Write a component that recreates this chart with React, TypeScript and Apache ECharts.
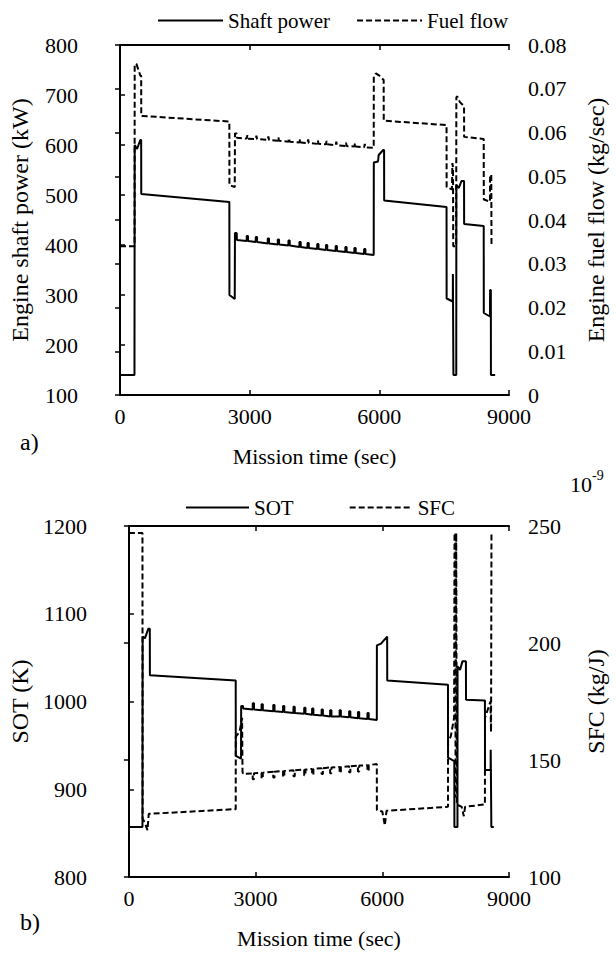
import React, { useEffect, useRef } from "react";
import * as echarts from "echarts";

const FONT = "Liberation Serif, serif";

// Axis ranges [min, max, interval]
const timeAxis = [0, 9000, 3000];
const powerAxis = [100, 800, 100];
const fuelAxis = [0, 0.08, 0.01];
const sotAxis = [800, 1200, 100];
const sfcAxis = [100, 250, 50];

// a) Engine shaft power (kW) vs mission time (s)
const shaftPower: [number, number][] = [
  [0, 140], [335, 140], [340, 600], [395, 592], [470, 610], [490, 610], [492, 502],
  [2530, 486], [2532, 300], [2655, 292], [2660, 424], [2700, 424], [2705, 410],
  [2932, 408], [2932, 418], [2962, 418], [2962, 408],
  [3141, 406], [3141, 416], [3171, 416], [3171, 406],
  [3418, 403], [3418, 413], [3448, 413], [3448, 403],
  [3650, 401], [3650, 411], [3680, 411], [3680, 401],
  [3897, 399], [3897, 409], [3927, 409], [3927, 399],
  [4151, 396], [4151, 406], [4181, 406], [4181, 396],
  [4338, 394], [4338, 404], [4368, 404], [4368, 394],
  [4563, 392], [4563, 402], [4593, 402], [4593, 392],
  [4765, 390], [4765, 400], [4795, 400], [4795, 390],
  [4989, 388], [4989, 398], [5019, 398], [5019, 388],
  [5214, 386], [5214, 396], [5244, 396], [5244, 386],
  [5423, 384], [5423, 394], [5453, 394], [5453, 384],
  [5648, 382], [5648, 392], [5678, 392], [5678, 382],
  [5870, 380], [5872, 565], [5970, 567], [5985, 580], [6090, 590], [6110, 590], [6112, 489],
  [7555, 476], [7557, 293], [7700, 287], [7702, 342], [7712, 342], [7714, 140], [7780, 140],
  [7782, 520], [7840, 514], [7900, 528], [7960, 528], [7962, 442],
  [8415, 438], [8417, 264], [8560, 257], [8562, 310], [8580, 310], [8582, 140], [8680, 140],
];

// a) Engine fuel flow (kg/s)
const fuelFlow: [number, number][] = [
  [0, 0.034], [337, 0.034], [340, 0.0755], [380, 0.0757], [420, 0.0745], [470, 0.073], [490, 0.073], [492, 0.0638],
  [2530, 0.0625], [2532, 0.048], [2655, 0.0475], [2660, 0.0598], [2700, 0.0598], [2705, 0.0588],
  [2932, 0.0586], [2947, 0.0594], [2962, 0.0586],
  [3141, 0.0585], [3156, 0.0593], [3171, 0.0585],
  [3418, 0.0583], [3433, 0.0591], [3448, 0.0583],
  [3650, 0.0581], [3665, 0.0589], [3680, 0.0581],
  [3897, 0.0579], [3912, 0.0587], [3927, 0.0579],
  [4151, 0.0577], [4166, 0.0585], [4181, 0.0577],
  [4338, 0.0576], [4353, 0.0584], [4368, 0.0576],
  [4563, 0.0574], [4578, 0.0582], [4593, 0.0574],
  [4765, 0.0573], [4780, 0.0581], [4795, 0.0573],
  [4989, 0.0571], [5004, 0.0579], [5019, 0.0571],
  [5214, 0.0569], [5229, 0.0577], [5244, 0.0569],
  [5423, 0.0568], [5438, 0.0576], [5453, 0.0568],
  [5648, 0.0566], [5663, 0.0574], [5678, 0.0566],
  [5870, 0.0565], [5872, 0.0728], [5920, 0.0735], [6000, 0.073], [6100, 0.072], [6102, 0.0627],
  [7555, 0.0617], [7557, 0.0475], [7680, 0.047], [7690, 0.053], [7705, 0.052], [7710, 0.034], [7778, 0.034],
  [7782, 0.068], [7800, 0.0683], [7860, 0.067], [7960, 0.066], [7962, 0.059],
  [8415, 0.0585], [8417, 0.0447], [8560, 0.0442], [8562, 0.0503], [8590, 0.0503], [8595, 0.034], [8605, 0.034],
];

// b) SOT (K)
const sotK: [number, number][] = [
  [0, 857], [321, 857], [325, 1074], [380, 1072], [460, 1083], [495, 1083], [497, 1030],
  [2529, 1024], [2531, 938], [2655, 935], [2658, 995], [2700, 995], [2705, 992],
  [2932, 991], [2932, 998], [2962, 998], [2962, 991],
  [3141, 990], [3141, 997], [3171, 997], [3171, 990],
  [3418, 989], [3418, 996], [3448, 996], [3448, 989],
  [3650, 988], [3650, 995], [3680, 995], [3680, 988],
  [3897, 987], [3897, 994], [3927, 994], [3927, 987],
  [4151, 986], [4151, 993], [4181, 993], [4181, 986],
  [4338, 985], [4338, 992], [4368, 992], [4368, 985],
  [4563, 984], [4563, 991], [4593, 991], [4593, 984],
  [4765, 983], [4765, 990], [4795, 990], [4795, 983],
  [4989, 983], [4989, 990], [5019, 990], [5019, 983],
  [5214, 982], [5214, 989], [5244, 989], [5244, 982],
  [5423, 981], [5423, 988], [5453, 988], [5453, 981],
  [5648, 980], [5648, 987], [5678, 987], [5678, 980],
  [5870, 979], [5872, 1064], [5970, 1066], [6115, 1074], [6117, 1024],
  [7555, 1019], [7557, 936], [7705, 932], [7707, 857], [7780, 857],
  [7782, 1040], [7840, 1036], [7900, 1046], [7980, 1046], [7982, 1002],
  [8430, 1001], [8432, 922], [8565, 922], [8567, 945], [8580, 945], [8582, 857], [8640, 857],
];

// b) SFC (x10^-9 kg/J)
const sfc: [number, number][] = [
  [0, 247], [321, 247], [325, 125], [380, 123], [440, 120], [470, 127], [495, 127],
  [2529, 129], [2531, 160], [2620, 162], [2680, 168], [2690, 145], [2705, 144],
  [2932, 144.3], [2932, 141.8], [2962, 141.8], [2962, 144.3],
  [3141, 144.6], [3141, 142.1], [3171, 142.1], [3171, 144.6],
  [3418, 145], [3418, 142.5], [3448, 142.5], [3448, 145],
  [3650, 145.3], [3650, 142.8], [3680, 142.8], [3680, 145.3],
  [3897, 145.6], [3897, 143.1], [3927, 143.1], [3927, 145.6],
  [4151, 145.9], [4151, 143.4], [4181, 143.4], [4181, 145.9],
  [4338, 146.2], [4338, 143.7], [4368, 143.7], [4368, 146.2],
  [4563, 146.5], [4563, 144], [4593, 144], [4593, 146.5],
  [4765, 146.8], [4765, 144.3], [4795, 144.3], [4795, 146.8],
  [4989, 147], [4989, 144.5], [5019, 144.5], [5019, 147],
  [5214, 147.3], [5214, 144.8], [5244, 144.8], [5244, 147.3],
  [5423, 147.6], [5423, 145.1], [5453, 145.1], [5453, 147.6],
  [5648, 147.8], [5648, 145.3], [5678, 145.3], [5678, 147.8],
  [5870, 148.3], [5872, 128.6], [6000, 128], [6060, 122], [6100, 128.3],
  [7555, 130], [7557, 158], [7620, 160], [7700, 168], [7710, 247], [7730, 247], [7735, 134],
  [7750, 247], [7760, 247], [7765, 131], [7880, 130], [7930, 126], [7960, 130],
  [8430, 131], [8432, 168], [8560, 175], [8575, 162], [8585, 247], [8600, 247],
];

const black = "#000";
const tickFont = { fontFamily: FONT, fontSize: 22, color: black };
const xNameFont = { fontFamily: FONT, fontSize: 22, color: black };
const yNameFont = { fontFamily: FONT, fontSize: 24, color: black };
const plain = (v: number) => String(v);

function xAxes(gridIndex: number) {
  const base = {
    type: "value" as const,
    gridIndex,
    min: timeAxis[0],
    max: timeAxis[1],
    interval: timeAxis[2],
    axisLine: { show: true, lineStyle: { color: black, width: 2 } },
    axisTick: { show: true, inside: true, length: 5, lineStyle: { color: black, width: 1.5 } },
    splitLine: { show: false },
  };
  return [
    {
      ...base,
      position: "bottom",
      axisLabel: { ...tickFont, margin: 10, formatter: plain },
      name: "Mission time (sec)",
      nameLocation: "middle",
      nameGap: 50,
      nameTextStyle: xNameFont,
    },
    { ...base, position: "top", axisLabel: { show: false } },
  ];
}

function yAxis(
  gridIndex: number,
  position: "left" | "right",
  range: number[],
  name: string,
  nameGap: number,
  formatter: (v: number) => string
) {
  return {
    type: "value",
    gridIndex,
    position,
    min: range[0],
    max: range[1],
    interval: range[2],
    axisLine: { show: true, lineStyle: { color: black, width: 2 } },
    axisTick: { show: true, inside: true, length: 5, lineStyle: { color: black, width: 1.5 } },
    splitLine: { show: false },
    axisLabel: { ...tickFont, margin: position === "left" ? 42 : 19, formatter },
    name,
    nameLocation: "middle",
    nameRotate: 90,
    nameGap,
    nameTextStyle: yNameFont,
  };
}

function lineSeries(name: string, data: [number, number][], xi: number, yi: number, dashed: boolean) {
  return {
    name,
    type: "line",
    xAxisIndex: xi,
    yAxisIndex: yi,
    data,
    symbol: "none",
    showSymbol: false,
    silent: true,
    lineStyle: { color: black, width: 2, type: dashed ? [6, 3] : "solid" },
    itemStyle: { color: black },
  };
}

export default function App() {
  const ref = useRef<HTMLDivElement>(null);
  useEffect(() => {
    if (!ref.current) return;
    const chart = echarts.init(ref.current, null, { renderer: "svg" });
    const legendText = { fontFamily: FONT, fontSize: 21, color: black };
    chart.setOption({
      animation: false,
      backgroundColor: "#fff",
      grid: [
        { left: 115, top: 45, width: 401, height: 350 },
        { left: 115, top: 526, width: 401, height: 351 },
      ],
      legend: [
        {
          data: ["Shaft power", "Fuel flow"],
          left: 152,
          top: 5,
          itemWidth: 65,
          itemHeight: 4,
          itemGap: 26,
          itemStyle: { opacity: 0 },
          textStyle: legendText,
        },
        {
          data: ["SOT", "SFC"],
          left: 180,
          top: 492,
          itemWidth: 63,
          itemHeight: 4,
          itemGap: 55,
          itemStyle: { opacity: 0 },
          textStyle: legendText,
        },
      ],
      xAxis: [...xAxes(0), ...xAxes(1)],
      yAxis: [
        yAxis(0, "left", powerAxis, "Engine shaft power (kW)", 88, plain),
        yAxis(0, "right", fuelAxis, "Engine fuel flow (kg/sec)", 75, (v: number) =>
          v === 0 ? "0" : v.toFixed(2)
        ),
        yAxis(1, "left", sotAxis, "SOT (K)", 88, plain),
        yAxis(1, "right", sfcAxis, "SFC (kg/J)", 75, plain),
      ],
      series: [
        lineSeries("Shaft power", shaftPower, 0, 0, false),
        lineSeries("Fuel flow", fuelFlow, 0, 1, true),
        lineSeries("SOT", sotK, 2, 2, false),
        lineSeries("SFC", sfc, 2, 3, true),
      ],
      graphic: [
        {
          type: "text",
          left: 20,
          top: 430,
          style: { text: "a)", fontFamily: FONT, fontSize: 24, fill: black },
        },
        {
          type: "text",
          left: 20,
          top: 910,
          style: { text: "b)", fontFamily: FONT, fontSize: 24, fill: black },
        },
        {
          type: "text",
          left: 570,
          top: 473,
          style: { text: "10", fontFamily: FONT, fontSize: 22, fill: black },
        },
        {
          type: "text",
          left: 592,
          top: 468,
          style: { text: "-9", fontFamily: FONT, fontSize: 14, fill: black },
        },
      ],
    });
    return () => chart.dispose();
  }, []);
  return (
    <div
      ref={ref}
      style={{ position: "absolute", left: 0, top: 0, width: 616, height: 953, background: "#fff" }}
    />
  );
}
